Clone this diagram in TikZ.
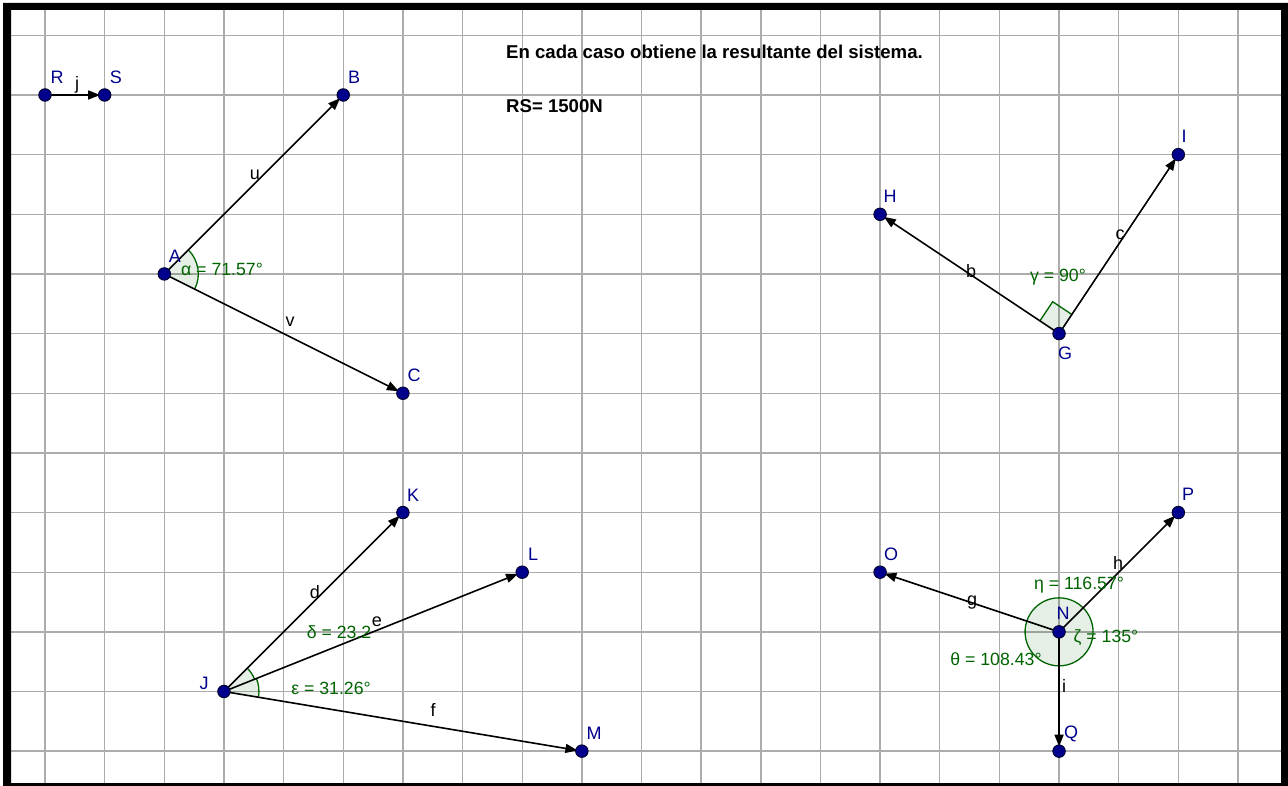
\documentclass[tikz,border=0pt]{standalone}
\usepackage{fontspec}
\setmainfont{Liberation Sans}
\usetikzlibrary{calc,angles,arrows.meta}
\definecolor{ptblue}{RGB}{0,0,140}
\definecolor{anggreen}{RGB}{0,100,0}
\definecolor{gridgray}{RGB}{172,172,172}
\begin{document}
\begin{tikzpicture}[x=1pt,y=-1pt,
  gridline/.style={gridgray,line width=1.4pt},
  vec/.style={black,line width=1.6pt,-{Triangle[length=12pt,width=9pt]},shorten >=4.5pt},
  ptdot/.style={circle,fill=ptblue,draw=black!70!ptblue,line width=0.9pt,minimum size=12.5pt,inner sep=0pt},
  ptlabel/.style={text=ptblue,font=\fontsize{18}{20}\selectfont,inner sep=0pt},
  seglabel/.style={text=black,font=\fontsize{18}{20}\selectfont,inner sep=0pt},
  anglabel/.style={text=anggreen,font=\fontsize{17.7}{20}\selectfont,inner sep=0pt},
  angmark/.style={draw=anggreen,line width=1.3pt,fill=anggreen,fill opacity=0.1,draw opacity=1},
  titletext/.style={font=\bfseries\fontsize{18.6}{22}\selectfont,inner sep=0pt,anchor=west}
]
\useasboundingbox (0,0) rectangle (1288,786);
\fill[white] (0,0) rectangle (1288,786);
% grid
\foreach \k in {0,...,20} \draw[gridline] ({45+59.65*\k},10) -- ({45+59.65*\k},783);
\foreach \m in {-1,...,11} \draw[gridline] (11,{95+59.65*\m}) -- (1281,{95+59.65*\m});
% frame
\fill[black,even odd rule] (3,3) rectangle (1288,786) (11,10) rectangle (1281,783);
% points
\coordinate (R) at (45,95);
\coordinate (S) at (104.65,95);
\coordinate (B) at (343.25,95);
\coordinate (A) at (164.3,273.95);
\coordinate (C) at (402.9,393.25);
\coordinate (H) at (880.1,214.3);
\coordinate (I) at (1178.35,154.65);
\coordinate (G) at (1059.05,333.6);
\coordinate (K) at (402.9,512.55);
\coordinate (L) at (522.2,572.2);
\coordinate (J) at (223.95,691.5);
\coordinate (M) at (581.85,751.15);
\coordinate (O) at (880.1,572.2);
\coordinate (P) at (1178.35,512.55);
\coordinate (N) at (1059.05,631.85);
\coordinate (Q) at (1059.05,751.15);
% angles
\pic[angmark, angle radius=34pt] {angle=C--A--B};
\pic[angmark, angle radius=33pt] {angle=L--J--K};
\pic[angmark, angle radius=35pt] {angle=M--J--L};
\pic[angmark, angle radius=34pt] {angle=P--N--O};
\pic[angmark, angle radius=34pt] {angle=O--N--Q};
\pic[angmark, angle radius=34pt] {angle=Q--N--P};
\coordinate (gh) at ($(G)!23pt!(H)$);
\coordinate (gi) at ($(G)!23pt!(I)$);
\coordinate (gc) at ($(gh)+(gi)-(G)$);
\fill[anggreen,fill opacity=0.1] (G) -- (gh) -- (gc) -- (gi) -- cycle;
\draw[anggreen,line width=1.3pt] (gh) -- (gc) -- (gi);
% vectors
\draw[vec] (R) -- (S);
\draw[vec] (A) -- (B);
\draw[vec] (A) -- (C);
\draw[vec] (G) -- (H);
\draw[vec] (G) -- (I);
\draw[vec] (J) -- (K);
\draw[vec] (J) -- (L);
\draw[vec] (J) -- (M);
\draw[vec] (N) -- (O);
\draw[vec] (N) -- (P);
\draw[vec] (N) -- (Q);
% dots
\foreach \p in {R,S,B,A,C,H,I,G,K,L,J,M,O,P,N,Q} \node[ptdot] (\p-dot) at (\p) {};
% point labels
\node[ptlabel] (R-lab) at (57,77) {R};
\node[ptlabel] (S-lab) at (116,77) {S};
\node[ptlabel] (B-lab) at (354,77) {B};
\node[ptlabel] (A-lab) at (175,256) {A};
\node[ptlabel] (C-lab) at (414,375) {C};
\node[ptlabel] (H-lab) at (890,196) {H};
\node[ptlabel] (I-lab) at (1184,136) {I};
\node[ptlabel] (G-lab) at (1065,353) {G};
\node[ptlabel] (K-lab) at (413,495) {K};
\node[ptlabel] (L-lab) at (533,554) {L};
\node[ptlabel] (J-lab) at (204,683) {J};
\node[ptlabel] (M-lab) at (594,733) {M};
\node[ptlabel] (O-lab) at (891,554) {O};
\node[ptlabel] (P-lab) at (1188,494) {P};
\node[ptlabel] (N-lab) at (1063,613) {N};
\node[ptlabel] (Q-lab) at (1071,734) {Q};
% segment labels
\node[seglabel] (j-lab) at (77,85) {j};
\node[seglabel] (u-lab) at (255,175) {u};
\node[seglabel] (v-lab) at (290,322) {v};
\node[seglabel] (b-lab) at (971,271) {b};
\node[seglabel] (c-lab) at (1120,235) {c};
\node[seglabel] (d-lab) at (315,592) {d};
\node[seglabel] (f-lab) at (433,710) {f};
\node[seglabel] (g-lab) at (972,603) {g};
\node[seglabel] (h-lab) at (1118,563) {h};
\node[seglabel] (i-lab) at (1064,686) {i};
% angle labels
\node[anglabel] (alpha-lab) at (222,269) {α = 71.57°};
\node[anglabel] (gamma-lab) at (1058,277) {γ = 90°};
\node[anglabel] (delta-lab) at (339,632) {δ = 23.2};
\node[seglabel] (e-lab) at (377,622) {e};
\node[anglabel] (eps-lab) at (331,688) {ε = 31.26°};
\node[anglabel] (eta-lab) at (1079,585) {η = 116.57°};
\node[anglabel] (zeta-lab) at (1106,638) {ζ = 135°};
\node[anglabel] (theta-lab) at (996,659) {θ = 108.43°};
% title
\node[titletext] (title) at (506,52) {En cada caso obtiene la resultante del sistema.};
\node[titletext] (rs) at (506,106) {RS= 1500N};
\end{tikzpicture}
\end{document}
